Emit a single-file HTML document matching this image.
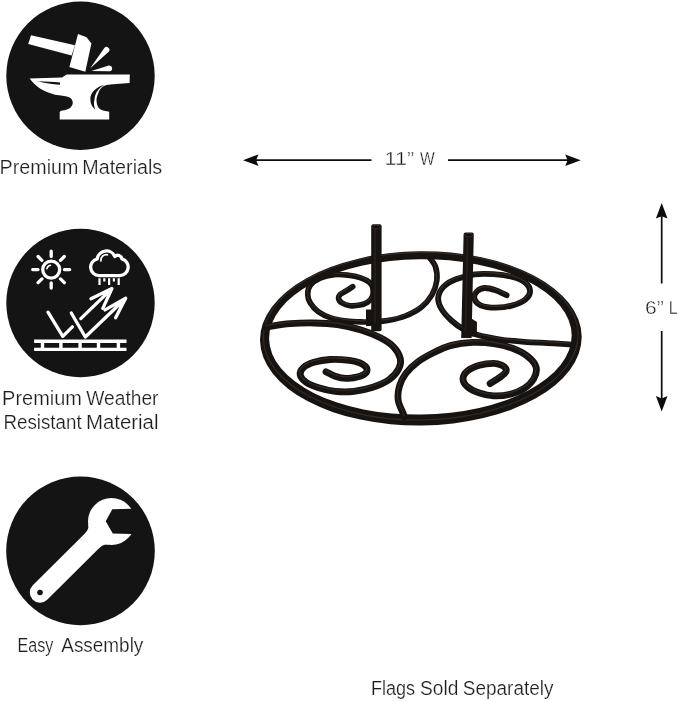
<!DOCTYPE html>
<html lang="en">
<head>
<meta charset="utf-8">
<title>Product features</title>
<style>
html,body{margin:0;padding:0;background:#fff;}
body{width:679px;height:701px;overflow:hidden;position:relative;font-family:"Liberation Sans",sans-serif;}
svg{position:absolute;left:0;top:0;display:block;}
svg text{font-family:"Liberation Sans",sans-serif;}
</style>
</head>
<body>
<svg width="679" height="701" viewBox="0 0 679 701">
<rect width="679" height="701" fill="#fff"/>
<!-- feature icons -->
<g style="filter:blur(0.3px)">

<circle cx="80.5" cy="75.7" r="74.2" fill="#141414"/>
<g fill="#fff">
<!-- hammer handle -->
<path d="M31 35.2 L75 45.3 L71.6 55.4 L28.2 44Z"/>
<!-- hammer head -->
<path d="M78 34 L86.6 37.3 L91.4 43.4 L85.3 71.8 L69.4 67Z"/>
<!-- sparks -->
<path d="M90 68.4 L104.3 48 A2.9 2.9 0 0 1 108.7 51.8Z"/>
<path d="M91.3 70.9 L108.8 65.5 A2.9 2.9 0 0 1 109.6 71.3Z"/>
<!-- anvil -->
<path d="M29.7 78.6 L62 77.6 L66.5 74.6 L129.8 74.6 L129.6 83 L116.2 83.9 C110 84.3 107 84.8 105.6 85.3 C101 87 99.2 90.5 98.6 92.4 C97 96 96.4 98.5 96.5 100.6 C96.6 104 97.6 106.3 98.6 107.7 C100.5 110 103.5 110.8 106.8 111.2 L109.2 111.8 L109.2 119.5 L59.7 119.5 L59.7 112.2 Q59.8 111.5 62.1 110.6 C65.5 110 68.5 109.2 70.3 107.7 C72.3 106 73 103.8 72.7 101.8 C72.2 98.8 70 97.2 66.8 96.5 C63 95.6 59 95.2 55 94.7 C45 92.5 35.5 87 29.7 78.6Z"/>
</g>
<g fill="#141414">
<path d="M37.5 81 C46 81.6 53 82 60 82.4 L60 84.8 C52 84.2 45 83.2 37.5 81Z"/>
<path d="M104.5 84.7 C96 87 90 93 90.3 99.4 C90.5 104 92.5 107.5 95.3 109.4 C93.8 106 93.6 102.5 94.5 99.4 C95 93 98.5 88 104.5 84.7Z"/>
</g>


<circle cx="80.5" cy="303" r="74.2" fill="#141414"/>
<g fill="none" stroke="#fff" stroke-width="3.3" stroke-linecap="round" stroke-linejoin="round">
<circle cx="51.2" cy="269.6" r="8.5"/>
<path d="M64.4 269.6 L69.7 269.6 M60.5 278.9 L64.3 282.7 M51.2 282.8 L51.2 288.1 M41.9 278.9 L38.1 282.7 M38.0 269.6 L32.7 269.6 M41.9 260.3 L38.1 256.5 M51.2 256.4 L51.2 251.1 M60.5 260.3 L64.3 256.5"/>
<path d="M46.9 268.6 A4.4 4.4 0 0 1 50.4 265.3" stroke-width="1.6"/>
<!-- cloud -->
<path d="M99 275.6 H119.6 A8.5 8.5 0 0 0 121.9 258.9 A4.3 4.3 0 0 0 114.8 256.4 A9.2 9.2 0 0 0 97.3 258.8 A8.5 8.5 0 0 0 99 275.6Z"/>
<path d="M100.9 260.9 A5.5 5.5 0 0 1 107.4 254.8" stroke-width="1.8"/>
<path d="M99.5 278.3V285 M104.3 278.3V281.4 M109.1 278.3V285 M113.9 278.3V281.4 M118.7 278.3V285" stroke-width="2.2" stroke-linecap="butt"/>
<!-- arrows -->
<path d="M48 312.2 L62.8 336.3 L72.4 326.8 M80.8 318.6 L111.9 288.6 M91 298.8 L111.9 288.6 L102.8 308.4"/>
<path d="M71.3 313 L85.3 337 L125.7 298.3 M105 309.9 L125.7 298.3 L115.6 317.8"/>
<!-- panel -->
<path d="M35.8 341.2H124.8 M35.8 349.4H124.8 M42.5 341.2V349.4 M60.9 341.2V349.4 M80.1 341.2V349.4 M98.5 341.2V349.4 M118.4 341.2V349.4" stroke-width="3.4" stroke-linecap="square"/>
</g>

<circle cx="80.5" cy="550.9" r="74.3" fill="#141414"/>
<line x1="40.0" y1="592.5" x2="104.4" y2="528.5" stroke="#fff" stroke-width="20.4" stroke-linecap="round"/><circle cx="111.5" cy="521.5" r="23.5" fill="#fff"/><path d="M98.6 548.7 Q103.7 543.6 108.6 544.8 L105 535Z M85 533.5 Q89.3 529.2 88.3 524 L96 530Z" fill="#fff"/><path d="M140 508.6 L112.3 509.2 L105.7 521.2 L112.8 533.6 L140 534.2Z" fill="#141414"/><circle cx="40.0" cy="592.5" r="2.8" fill="#141414"/>

</g>
<!-- product -->
<g id="product" style="filter:blur(0.35px)">
<path d="M428.3 255.9 C429.5 257.7 434.0 262.4 435.4 266.5 C436.8 270.6 437.4 276.0 436.8 280.7 C436.2 285.4 434.5 290.4 431.9 294.8 C429.3 299.2 425.7 303.7 421.3 307.2 C416.9 310.7 410.7 313.8 405.3 316.0 C399.9 318.2 394.4 319.3 389.0 320.3 C383.6 321.3 377.2 321.7 373.1 322.0 C369.0 322.3 368.6 322.2 364.2 322.0 C359.8 321.8 352.2 321.7 346.6 321.0 C341.0 320.3 335.4 319.3 330.7 317.8 C326.0 316.3 321.7 314.3 318.3 311.8 C314.9 309.3 312.1 305.9 310.3 303.0 C308.5 300.1 307.7 297.1 307.7 294.2 C307.7 291.2 308.2 288.0 310.3 285.3 C312.4 282.6 316.0 280.0 320.0 278.2 C324.0 276.4 329.5 275.1 334.2 274.6 C338.9 274.1 343.9 274.7 348.3 275.2 C352.7 275.7 357.2 276.6 360.7 277.8 C364.2 279.0 367.4 280.5 369.5 282.3 C371.6 284.1 372.6 286.5 373.0 288.9 C373.4 291.3 373.1 294.6 372.2 296.8 C371.3 299.0 369.9 300.7 367.8 302.1 C365.7 303.5 362.8 304.5 359.8 305.1 C356.9 305.7 353.1 306.1 350.1 305.7 C347.2 305.3 344.0 304.2 342.1 303.0 C340.2 301.8 338.9 300.1 338.6 298.6 C338.3 297.1 339.1 295.5 340.4 294.2 C341.7 292.9 344.6 292.0 346.6 290.7 C348.7 289.4 351.7 287.3 352.7 286.6" fill="none" stroke="#171311" stroke-width="5.6" stroke-linecap="round" stroke-linejoin="round"/>
<path d="M428.3 255.9 C429.5 257.7 434.0 262.4 435.4 266.5 C436.8 270.6 437.4 276.0 436.8 280.7 C436.2 285.4 434.5 290.4 431.9 294.8 C429.3 299.2 425.7 303.7 421.3 307.2 C416.9 310.7 410.7 313.8 405.3 316.0 C399.9 318.2 394.4 319.3 389.0 320.3 C383.6 321.3 377.2 321.7 373.1 322.0 C369.0 322.3 368.6 322.2 364.2 322.0 C359.8 321.8 352.2 321.7 346.6 321.0 C341.0 320.3 335.4 319.3 330.7 317.8 C326.0 316.3 321.7 314.3 318.3 311.8 C314.9 309.3 312.1 305.9 310.3 303.0 C308.5 300.1 307.7 297.1 307.7 294.2 C307.7 291.2 308.2 288.0 310.3 285.3 C312.4 282.6 316.0 280.0 320.0 278.2 C324.0 276.4 329.5 275.1 334.2 274.6 C338.9 274.1 343.9 274.7 348.3 275.2 C352.7 275.7 357.2 276.6 360.7 277.8 C364.2 279.0 367.4 280.5 369.5 282.3 C371.6 284.1 372.6 286.5 373.0 288.9 C373.4 291.3 373.1 294.6 372.2 296.8 C371.3 299.0 369.9 300.7 367.8 302.1 C365.7 303.5 362.8 304.5 359.8 305.1 C356.9 305.7 353.1 306.1 350.1 305.7 C347.2 305.3 344.0 304.2 342.1 303.0 C340.2 301.8 338.9 300.1 338.6 298.6 C338.3 297.1 339.1 295.5 340.4 294.2 C341.7 292.9 344.6 292.0 346.6 290.7 C348.7 289.4 351.7 287.3 352.7 286.6" transform="translate(-0.4 -1.2)" fill="none" stroke="#4a4340" stroke-opacity="0.55" stroke-width="1.1" stroke-linecap="round" stroke-linejoin="round"/>
<path d="M577.0 344.7 C575.7 344.6 573.9 344.6 569.0 344.3 C564.1 344.0 555.2 343.5 547.8 343.1 C540.3 342.7 532.1 342.5 524.3 341.9 C516.4 341.3 508.6 340.7 500.7 339.5 C492.8 338.3 483.4 336.6 477.1 334.8 C470.8 333.0 467.3 331.3 463.0 328.9 C458.7 326.5 455.0 323.8 451.4 320.5 C447.8 317.2 443.6 312.7 441.4 308.9 C439.2 305.1 437.8 301.2 438.2 297.5 C438.6 293.8 440.9 289.6 443.8 286.6 C446.8 283.6 450.7 281.3 455.9 279.3 C461.1 277.3 468.5 275.2 474.8 274.4 C481.1 273.5 487.3 273.8 493.6 274.2 C499.9 274.6 507.2 275.6 512.5 277.0 C517.8 278.4 522.5 280.4 525.4 282.8 C528.3 285.2 530.1 288.4 530.1 291.2 C530.1 294.0 528.3 297.1 525.4 299.5 C522.5 301.9 517.4 304.0 512.5 305.4 C507.6 306.8 501.3 307.7 496.0 307.7 C490.7 307.7 484.3 307.0 480.7 305.4 C477.1 303.8 474.9 300.7 474.3 298.3 C473.7 295.9 475.4 292.9 477.1 291.2 C478.8 289.5 481.4 288.2 484.5 288.0 C487.6 287.8 491.8 289.0 495.5 290.2 C499.2 291.4 504.8 294.4 506.6 295.2" fill="none" stroke="#171311" stroke-width="5.8" stroke-linecap="round" stroke-linejoin="round"/>
<path d="M577.0 344.7 C575.7 344.6 573.9 344.6 569.0 344.3 C564.1 344.0 555.2 343.5 547.8 343.1 C540.3 342.7 532.1 342.5 524.3 341.9 C516.4 341.3 508.6 340.7 500.7 339.5 C492.8 338.3 483.4 336.6 477.1 334.8 C470.8 333.0 467.3 331.3 463.0 328.9 C458.7 326.5 455.0 323.8 451.4 320.5 C447.8 317.2 443.6 312.7 441.4 308.9 C439.2 305.1 437.8 301.2 438.2 297.5 C438.6 293.8 440.9 289.6 443.8 286.6 C446.8 283.6 450.7 281.3 455.9 279.3 C461.1 277.3 468.5 275.2 474.8 274.4 C481.1 273.5 487.3 273.8 493.6 274.2 C499.9 274.6 507.2 275.6 512.5 277.0 C517.8 278.4 522.5 280.4 525.4 282.8 C528.3 285.2 530.1 288.4 530.1 291.2 C530.1 294.0 528.3 297.1 525.4 299.5 C522.5 301.9 517.4 304.0 512.5 305.4 C507.6 306.8 501.3 307.7 496.0 307.7 C490.7 307.7 484.3 307.0 480.7 305.4 C477.1 303.8 474.9 300.7 474.3 298.3 C473.7 295.9 475.4 292.9 477.1 291.2 C478.8 289.5 481.4 288.2 484.5 288.0 C487.6 287.8 491.8 289.0 495.5 290.2 C499.2 291.4 504.8 294.4 506.6 295.2" transform="translate(-0.4 -1.3)" fill="none" stroke="#4a4340" stroke-opacity="0.55" stroke-width="1.1" stroke-linecap="round" stroke-linejoin="round"/>
<g transform="rotate(-0.7 420.85 338.4)"><path fill-rule="evenodd" fill="#171311" d="M260 338.4a160.85 87.1 0 1 0 321.7 0a160.85 87.1 0 1 0 -321.7 0Z M269.1 336.9a151.3 77.7 0 1 0 302.6 0a151.3 77.7 0 1 0 -302.6 0Z"/><ellipse cx="420.8" cy="336.2" rx="157.4" ry="83.8" fill="none" stroke="#4a4340" stroke-opacity="0.5" stroke-width="1.2"/></g>
<path d="M266.0 327.0 C266.5 326.9 265.1 327.1 269.1 326.5 C273.2 325.9 282.8 324.3 290.3 323.7 C297.8 323.1 306.0 322.9 313.9 323.0 C321.8 323.1 329.6 323.4 337.5 324.6 C345.4 325.8 353.9 327.8 361.0 330.0 C368.1 332.2 374.5 334.8 379.9 337.6 C385.3 340.4 390.1 343.3 393.5 346.8 C396.9 350.3 399.4 354.8 400.3 358.5 C401.2 362.2 400.5 365.4 398.7 368.9 C396.9 372.4 393.6 376.4 389.3 379.5 C385.0 382.6 378.7 385.3 372.8 387.3 C366.9 389.3 360.3 390.6 354.0 391.3 C347.7 392.0 341.0 391.9 335.1 391.3 C329.2 390.7 323.5 389.4 318.6 387.8 C313.7 386.2 308.8 384.1 305.7 381.9 C302.6 379.7 300.6 377.2 300.2 374.8 C299.8 372.4 301.0 369.8 303.3 367.7 C305.6 365.6 309.4 363.7 313.9 362.3 C318.4 360.9 324.5 359.8 330.4 359.5 C336.3 359.2 344.4 359.8 349.3 360.3 C354.2 360.9 356.8 361.8 359.5 362.8 C362.2 363.8 364.2 365.2 365.5 366.5 C366.8 367.8 367.2 369.5 367.0 370.8 C366.8 372.1 365.7 373.5 364.0 374.5 C362.3 375.5 360.0 376.4 357.0 377.0 C354.0 377.6 349.6 378.5 346.0 378.4 C342.4 378.3 338.4 377.3 335.1 376.2 C331.8 375.1 327.5 372.5 326.0 371.8" fill="none" stroke="#171311" stroke-width="6.8" stroke-linecap="round" stroke-linejoin="round"/>
<path d="M266.0 327.0 C266.5 326.9 265.1 327.1 269.1 326.5 C273.2 325.9 282.8 324.3 290.3 323.7 C297.8 323.1 306.0 322.9 313.9 323.0 C321.8 323.1 329.6 323.4 337.5 324.6 C345.4 325.8 353.9 327.8 361.0 330.0 C368.1 332.2 374.5 334.8 379.9 337.6 C385.3 340.4 390.1 343.3 393.5 346.8 C396.9 350.3 399.4 354.8 400.3 358.5 C401.2 362.2 400.5 365.4 398.7 368.9 C396.9 372.4 393.6 376.4 389.3 379.5 C385.0 382.6 378.7 385.3 372.8 387.3 C366.9 389.3 360.3 390.6 354.0 391.3 C347.7 392.0 341.0 391.9 335.1 391.3 C329.2 390.7 323.5 389.4 318.6 387.8 C313.7 386.2 308.8 384.1 305.7 381.9 C302.6 379.7 300.6 377.2 300.2 374.8 C299.8 372.4 301.0 369.8 303.3 367.7 C305.6 365.6 309.4 363.7 313.9 362.3 C318.4 360.9 324.5 359.8 330.4 359.5 C336.3 359.2 344.4 359.8 349.3 360.3 C354.2 360.9 356.8 361.8 359.5 362.8 C362.2 363.8 364.2 365.2 365.5 366.5 C366.8 367.8 367.2 369.5 367.0 370.8 C366.8 372.1 365.7 373.5 364.0 374.5 C362.3 375.5 360.0 376.4 357.0 377.0 C354.0 377.6 349.6 378.5 346.0 378.4 C342.4 378.3 338.4 377.3 335.1 376.2 C331.8 375.1 327.5 372.5 326.0 371.8" transform="translate(-0.4 -1.5)" fill="none" stroke="#4a4340" stroke-opacity="0.55" stroke-width="1.1" stroke-linecap="round" stroke-linejoin="round"/>
<path d="M404.5 417.0 C404.2 416.4 404.1 415.9 403.0 413.1 C401.9 410.3 398.8 404.6 398.2 400.1 C397.6 395.6 398.2 390.4 399.5 386.0 C400.8 381.6 402.8 377.5 405.8 373.5 C408.8 369.5 412.8 365.6 417.4 362.2 C422.0 358.8 427.8 355.6 433.4 352.8 C439.0 350.0 444.8 347.1 451.3 345.4 C457.8 343.7 465.4 342.7 472.5 342.4 C479.6 342.1 487.0 342.6 493.7 343.6 C500.4 344.6 506.8 346.2 512.5 348.3 C518.2 350.4 523.9 353.4 527.8 356.5 C531.7 359.6 535.1 363.4 536.1 367.1 C537.1 370.8 535.7 375.4 533.7 378.9 C531.7 382.4 528.2 385.8 524.3 388.3 C520.4 390.9 515.3 392.9 510.2 394.2 C505.1 395.5 498.8 396.1 493.7 395.9 C488.6 395.7 483.8 394.4 479.5 393.0 C475.2 391.6 470.6 389.6 467.8 387.2 C465.1 384.8 463.0 381.6 463.0 378.9 C463.0 376.1 465.1 373.0 467.8 370.7 C470.6 368.4 475.2 366.4 479.5 365.2 C483.8 364.0 490.0 363.4 493.7 363.4 C497.4 363.4 499.5 364.3 501.5 365.2 C503.5 366.1 505.1 367.3 505.8 368.5 C506.5 369.7 506.4 371.0 505.6 372.3 C504.8 373.6 502.7 375.2 501.0 376.5 C499.3 377.8 497.3 379.0 495.5 380.2 C493.7 381.4 491.0 383.0 490.1 383.6" fill="none" stroke="#171311" stroke-width="6.8" stroke-linecap="round" stroke-linejoin="round"/>
<path d="M404.5 417.0 C404.2 416.4 404.1 415.9 403.0 413.1 C401.9 410.3 398.8 404.6 398.2 400.1 C397.6 395.6 398.2 390.4 399.5 386.0 C400.8 381.6 402.8 377.5 405.8 373.5 C408.8 369.5 412.8 365.6 417.4 362.2 C422.0 358.8 427.8 355.6 433.4 352.8 C439.0 350.0 444.8 347.1 451.3 345.4 C457.8 343.7 465.4 342.7 472.5 342.4 C479.6 342.1 487.0 342.6 493.7 343.6 C500.4 344.6 506.8 346.2 512.5 348.3 C518.2 350.4 523.9 353.4 527.8 356.5 C531.7 359.6 535.1 363.4 536.1 367.1 C537.1 370.8 535.7 375.4 533.7 378.9 C531.7 382.4 528.2 385.8 524.3 388.3 C520.4 390.9 515.3 392.9 510.2 394.2 C505.1 395.5 498.8 396.1 493.7 395.9 C488.6 395.7 483.8 394.4 479.5 393.0 C475.2 391.6 470.6 389.6 467.8 387.2 C465.1 384.8 463.0 381.6 463.0 378.9 C463.0 376.1 465.1 373.0 467.8 370.7 C470.6 368.4 475.2 366.4 479.5 365.2 C483.8 364.0 490.0 363.4 493.7 363.4 C497.4 363.4 499.5 364.3 501.5 365.2 C503.5 366.1 505.1 367.3 505.8 368.5 C506.5 369.7 506.4 371.0 505.6 372.3 C504.8 373.6 502.7 375.2 501.0 376.5 C499.3 377.8 497.3 379.0 495.5 380.2 C493.7 381.4 491.0 383.0 490.1 383.6" transform="translate(-0.4 -1.5)" fill="none" stroke="#4a4340" stroke-opacity="0.55" stroke-width="1.1" stroke-linecap="round" stroke-linejoin="round"/>
<rect x="371.2" y="224.3" width="10.4" height="107" rx="2" fill="#171311"/>
<rect x="374.2" y="227" width="1.6" height="96" fill="#4a4340" fill-opacity="0.28"/>
<rect x="366" y="309.5" width="6" height="16.5" fill="#171311"/>
<path d="M463.6 234.2 Q463.6 232.5 465.4 232.5 L472 232.5 Q473.8 232.5 473.8 234.2 L471.6 338 L461.2 338Z" fill="#171311"/>
<path d="M466.8 238 L464.7 331 L466.2 331 L468.3 238Z" fill="#4a4340" fill-opacity="0.28"/>
<path d="M471 318.2 L477 322 L476.8 336.5 L471 336.5Z" fill="#171311"/>
<ellipse cx="376.4" cy="226.9" rx="3.9" ry="1.7" fill="#0c0a09" stroke="#4a4340" stroke-opacity="0.7" stroke-width="0.8"/>
<ellipse cx="468.7" cy="235.1" rx="3.9" ry="1.7" fill="#0c0a09" stroke="#4a4340" stroke-opacity="0.7" stroke-width="0.8"/>

</g>
<!-- dimension arrows -->
<line x1="255.1" y1="160.2" x2="371.5" y2="160.2" stroke="#0c0c0c" stroke-width="1.7"/><path d="M243.0 160.2 L258.5 154.4 L256.1 160.2 L258.5 166.0Z" fill="#0c0c0c"/>
<line x1="448.0" y1="160.2" x2="568.6" y2="160.2" stroke="#0c0c0c" stroke-width="1.7"/><path d="M580.7 160.2 L565.2 154.4 L567.6 160.2 L565.2 166.0Z" fill="#0c0c0c"/>
<line x1="661.7" y1="215.2" x2="661.7" y2="283.5" stroke="#0c0c0c" stroke-width="1.7"/><path d="M661.7 203.1 L655.9 218.6 L661.7 216.2 L667.5 218.6Z" fill="#0c0c0c"/>
<line x1="661.7" y1="331.0" x2="661.7" y2="399.4" stroke="#0c0c0c" stroke-width="1.7"/><path d="M661.7 411.5 L655.9 396.0 L661.7 398.4 L667.5 396.0Z" fill="#0c0c0c"/>

<!-- labels -->
<g style="filter:grayscale(1)">
<text y="173.8" font-size="19.6" fill="#1e1e1e" stroke="#fff" stroke-width="0.22"><tspan x="-0.4" textLength="78.8" lengthAdjust="spacingAndGlyphs">Premium</tspan> <tspan x="82.3" textLength="79.9" lengthAdjust="spacingAndGlyphs">Materials</tspan></text>
<text y="405.0" font-size="19.6" fill="#1e1e1e" stroke="#fff" stroke-width="0.22"><tspan x="2.1" textLength="79.8" lengthAdjust="spacingAndGlyphs">Premium</tspan> <tspan x="86.3" textLength="72.2" lengthAdjust="spacingAndGlyphs">Weather</tspan></text>
<text y="428.8" font-size="19.6" fill="#1e1e1e" stroke="#fff" stroke-width="0.22"><tspan x="3.5" textLength="78.1" lengthAdjust="spacingAndGlyphs">Resistant</tspan> <tspan x="85.9" textLength="72.6" lengthAdjust="spacingAndGlyphs">Material</tspan></text>
<text y="651.8" font-size="19.6" fill="#1e1e1e" stroke="#fff" stroke-width="0.22"><tspan x="17.5" textLength="35.9" lengthAdjust="spacingAndGlyphs">Easy</tspan> <tspan x="61.3" textLength="82.0" lengthAdjust="spacingAndGlyphs">Assembly</tspan></text>
<text y="694.9" font-size="19.6" fill="#1e1e1e" stroke="#fff" stroke-width="0.22"><tspan x="370.9" textLength="44.2" lengthAdjust="spacingAndGlyphs">Flags</tspan> <tspan x="420.1" textLength="38.3" lengthAdjust="spacingAndGlyphs">Sold</tspan> <tspan x="462.8" textLength="90.7" lengthAdjust="spacingAndGlyphs">Separately</tspan></text>
<text y="165.4" font-size="17.6" fill="#161616" stroke="#fff" stroke-width="0.36"><tspan x="384.6" textLength="29.6" lengthAdjust="spacingAndGlyphs">11”</tspan> <tspan x="419.9" textLength="14.7" lengthAdjust="spacingAndGlyphs">W</tspan></text>
<text y="314.0" font-size="17.6" fill="#161616" stroke="#fff" stroke-width="0.36"><tspan x="644.9" textLength="18.8" lengthAdjust="spacingAndGlyphs">6”</tspan> <tspan x="668.7" textLength="8.8" lengthAdjust="spacingAndGlyphs">L</tspan></text>
</g>
</svg>
</body>
</html>
